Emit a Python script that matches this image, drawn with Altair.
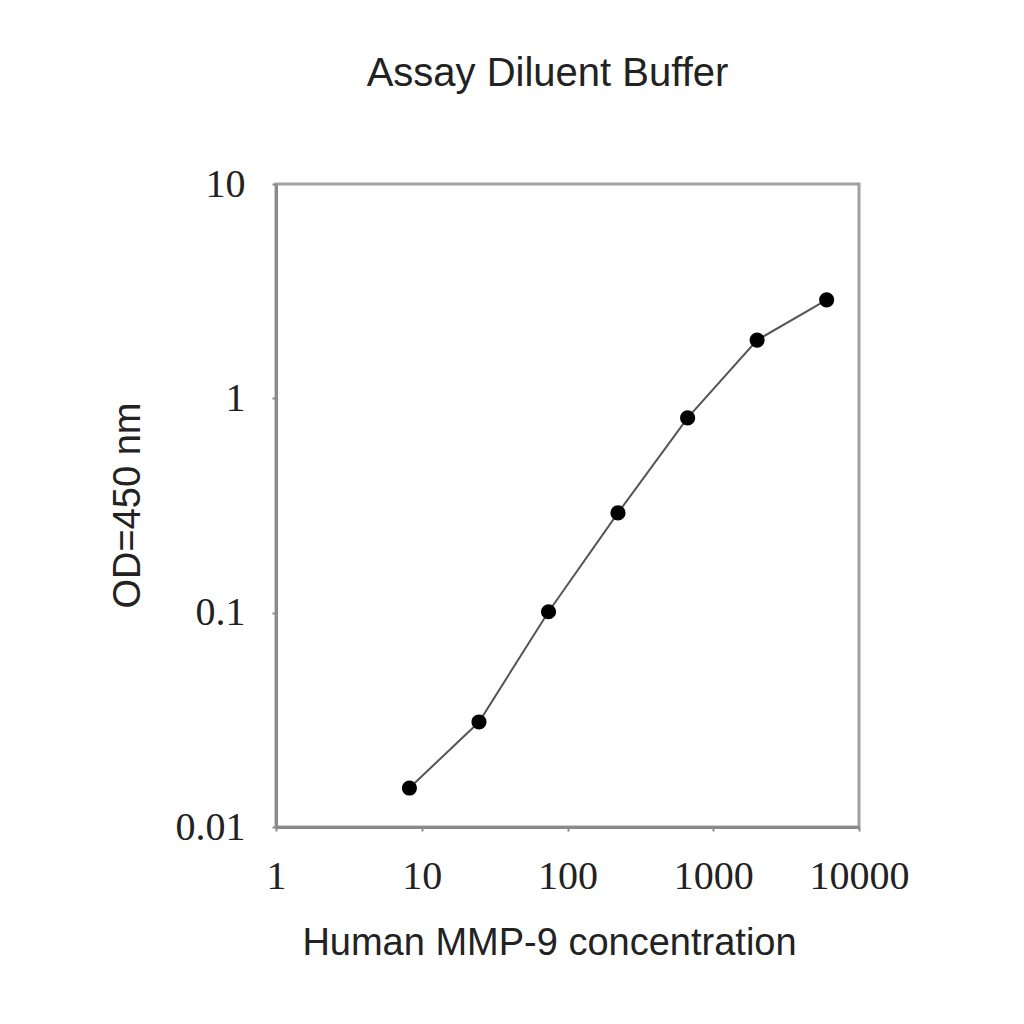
import altair as alt
import pandas as pd

concentration = [8.23, 24.7, 74.1, 222, 667, 2000, 6000]
od450 = [0.0152, 0.0309, 0.101, 0.292, 0.81, 1.87, 2.88]
x_ticks = [1, 10, 100, 1000, 10000]
y_ticks = [0.01, 0.1, 1, 10]

df = pd.DataFrame({"conc": concentration, "od": od450})

x_enc = alt.X(
    "conc:Q",
    scale=alt.Scale(type="log", domain=[1, 10000], nice=False),
    axis=alt.Axis(
        values=x_ticks, format="~g", grid=False,
        title="Human MMP-9 concentration",
        titleY=116, titleBaseline="middle", titleX=273,
        labelPadding=25, labelBaseline="top", labelFlush=False,
        labelOverlap=False,
    ),
)
y_enc = alt.Y(
    "od:Q",
    scale=alt.Scale(type="log", domain=[0.01, 10], nice=False),
    axis=alt.Axis(
        values=y_ticks, format="~g", grid=False,
        title="OD=450 nm",
        titleX=-148, titleY=321, titleAngle=270,
        titleBaseline="middle", titleAlign="center",
        labelPadding=27, labelFlush=False, labelOverlap=False,
    ),
)

base = alt.Chart(df).encode(x=x_enc, y=y_enc)
line = base.mark_line(color="#555555", strokeWidth=2)
pts = base.mark_point(filled=True, color="black", size=230, opacity=1)

chart = alt.layer(line, pts).properties(
    width=583,
    height=643,
    autosize=alt.AutoSizeParams(type="none"),
    padding={"left": 268, "top": 176, "right": 140, "bottom": 170},
    title=alt.TitleParams(
        "Assay Diluent Buffer",
        font="Liberation Sans", fontSize=40, fontWeight="normal",
        color="#222222", anchor="middle", frame="group",
        dx=-20, baseline="alphabetic", offset=38,
    ),
).configure_view(
    stroke="#a0a0a0", strokeWidth=3
).configure_axis(
    domainColor="#8a8a8a", domainWidth=3,
    tickColor="#8a8a8a", tickSize=4, tickWidth=2,
    labelFont="Liberation Serif", labelFontSize=40, labelColor="#222222",
    titleFont="Liberation Sans", titleFontSize=38, titleFontWeight="normal",
    titleColor="#222222",
)

chart.save("out.html", embed_options={"renderer": "svg", "actions": False})
